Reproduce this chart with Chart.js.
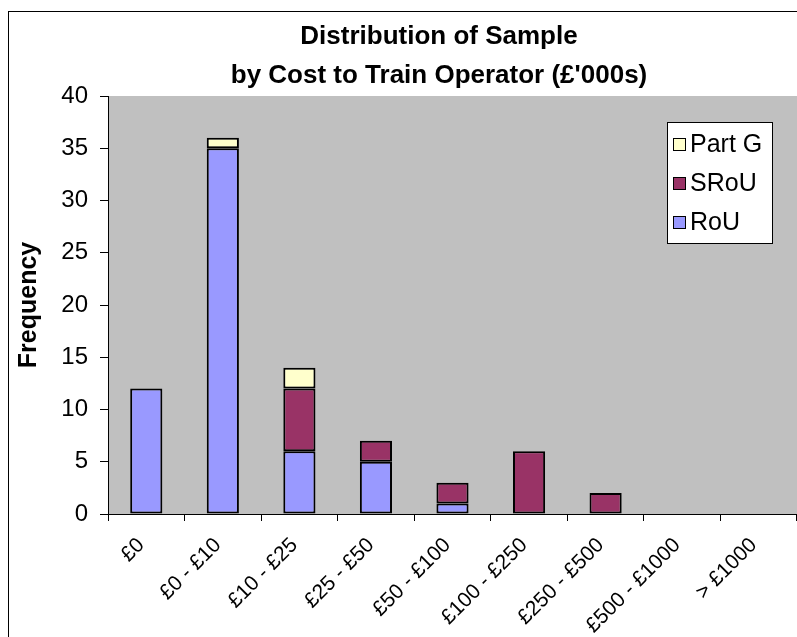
<!DOCTYPE html>
<html>
<head>
<meta charset="utf-8">
<script src="https://cdn.jsdelivr.net/npm/chart.js@4.4.1/dist/chart.umd.min.js"></script>
<style>
  html, body { margin: 0; padding: 0; background: #fff; overflow: hidden; }
  #wrap { position: relative; width: 797px; height: 637px; overflow: hidden; }
  #frame { position: absolute; left: 8px; top: 11px; width: 900px; height: 700px;
           border: 1.5px solid #000; box-sizing: border-box; }
  #c { position: absolute; left: 0; top: 0; }
</style>
</head>
<body>
<div id="wrap">
  <div id="frame"></div>
  <canvas id="c" width="797" height="637"></canvas>
</div>
<script>
// Cost bands (£'000s)
const categories = ['£0', '£0 - £10', '£10 - £25', '£25 - £50', '£50 - £100',
                    '£100 - £250', '£250 - £500', '£500 - £1000', '> £1000'];
// Frequency per band, by type
const rouValues   = [12, 35, 6, 5, 1, 0, 0, 0, 0];
const srouValues  = [0, 0, 6, 2, 2, 6, 2, 0, 0];
const partGValues = [0, 1, 2, 0, 0, 0, 0, 0, 0];
// Frequency axis ticks
const yTicks = [0, 5, 10, 15, 20, 25, 30, 35, 40];
const titleLines = ['Distribution of Sample', "by Cost to Train Operator (£'000s)"];

const FONT = "Arial, 'Liberation Sans', sans-serif";

const plotBackground = {
  id: 'plotBackground',
  beforeDraw(chart) {
    const { ctx, chartArea: a } = chart;
    ctx.save();
    ctx.fillStyle = '#C0C0C0';
    ctx.fillRect(a.left, a.top, a.right - a.left, a.bottom - a.top);
    ctx.restore();
  }
};

// Two-line heading and boxed key drawn over the chart
const heading = {
  id: 'heading',
  afterDraw(chart) {
    const ctx = chart.ctx;
    ctx.save();
    ctx.fillStyle = '#000';
    ctx.font = 'bold 26px ' + FONT;
    ctx.textAlign = 'center';
    ctx.textBaseline = 'middle';
    ctx.fillText(titleLines[0], 439, 37);
    ctx.fillText(titleLines[1], 439, 76);
    ctx.restore();
  }
};

const boxedKey = {
  id: 'boxedKey',
  afterDraw(chart) {
    const ctx = chart.ctx;
    const x0 = 667, y0 = 122, w = 105, h = 121;
    ctx.save();
    ctx.fillStyle = '#fff';
    ctx.fillRect(x0, y0, w, h);
    ctx.strokeStyle = '#000';
    ctx.lineWidth = 1;
    ctx.strokeRect(x0 + 0.5, y0 + 0.5, w, h);
    const items = chart.data.datasets.slice().reverse();
    ctx.font = '25px ' + FONT;
    ctx.textBaseline = 'middle';
    ctx.textAlign = 'left';
    items.forEach((ds, i) => {
      const cy = y0 + 22 + i * 39;
      ctx.fillStyle = ds.backgroundColor;
      ctx.fillRect(673, cy - 6, 13, 13);
      ctx.strokeStyle = '#000';
      ctx.strokeRect(673.5, cy - 5.5, 12, 12);
      ctx.fillStyle = '#000';
      ctx.fillText(ds.label, 690, cy + 1);
    });
    ctx.restore();
  }
};

const barStyle = { borderColor: '#000', borderWidth: 2, borderSkipped: false,
                   barPercentage: 0.42, categoryPercentage: 1.0 };

new Chart(document.getElementById('c'), {
  type: 'bar',
  data: {
    labels: categories,
    datasets: [
      Object.assign({ label: 'RoU', data: rouValues, backgroundColor: '#9999FF' }, barStyle),
      Object.assign({ label: 'SRoU', data: srouValues, backgroundColor: '#993366' }, barStyle),
      Object.assign({ label: 'Part G', data: partGValues, backgroundColor: '#FFFFCC' }, barStyle)
    ]
  },
  options: {
    responsive: false,
    animation: false,
    devicePixelRatio: 1,
    layout: { padding: { top: 96, left: 0, right: 0, bottom: 0 } },
    plugins: { legend: { display: false }, tooltip: { enabled: false }, title: { display: false } },
    scales: {
      x: {
        stacked: true,
        offset: true,
        grid: { offset: true, drawOnChartArea: false, drawTicks: true, tickLength: 7,
                color: '#000', lineWidth: 1 },
        border: { color: '#000', width: 1 },
        ticks: { autoSkip: false, maxRotation: 45, minRotation: 45, padding: 12, labelOffset: -5,
                 color: '#000', font: { family: FONT, size: 21 } },
        afterFit(s) { s.height = 123; }
      },
      y: {
        stacked: true,
        min: 0, max: 40,
        afterBuildTicks(s) { s.ticks = yTicks.map(v => ({ value: v })); },
        grid: { drawOnChartArea: false, drawTicks: true, tickLength: 8, color: '#000', lineWidth: 1 },
        border: { color: '#000', width: 1 },
        ticks: { padding: 12, color: '#000', font: { family: FONT, size: 24 } },
        title: { display: true, text: 'Frequency', color: '#000',
                 font: { family: FONT, size: 25, weight: 'bold' }, padding: { top: 14, bottom: 0 } },
        afterFit(s) { s.width = 108; }
      }
    }
  },
  plugins: [plotBackground, heading, boxedKey]
});
</script>
</body>
</html>
